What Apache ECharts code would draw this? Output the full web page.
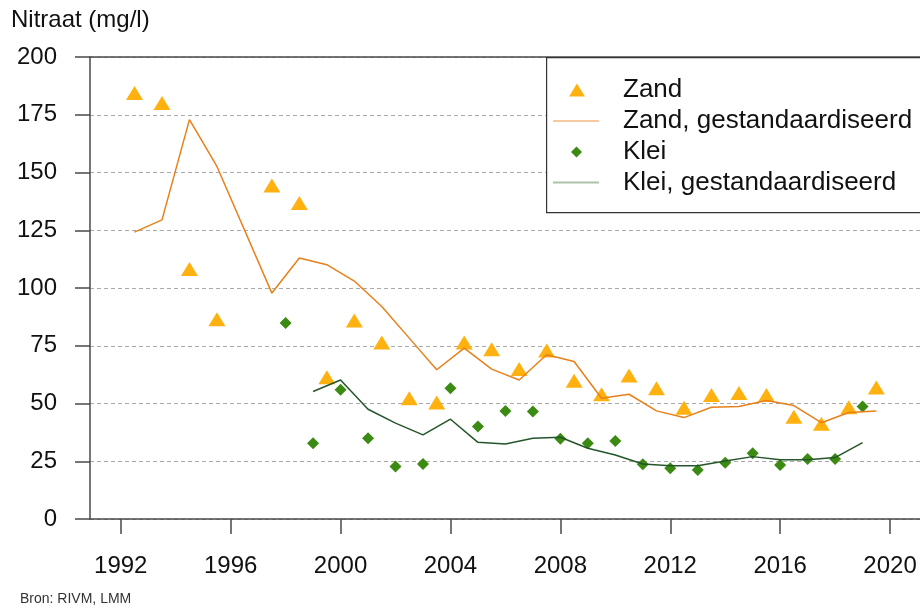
<!DOCTYPE html>
<html>
<head>
<meta charset="utf-8">
<script src="https://cdn.jsdelivr.net/npm/echarts@6/dist/echarts.min.js"></script>
<style>
  html, body { margin: 0; padding: 0; background: #fff; }
  #chart { width: 920px; height: 608px; }
</style>
</head>
<body>
<div id="chart"></div>
<script>
// Zand: meetjaren (geplot halverwege het jaar) en nitraat (mg/l)
var zandYears = [1992, 1993, 1994, 1995, 1997, 1998, 1999, 2000, 2001, 2002, 2003, 2004, 2005, 2006,
  2007, 2008, 2009, 2010, 2011, 2012, 2013, 2014, 2015, 2016, 2017, 2018, 2019];
var zandValues = [184.4, 180.1, 108.2, 86.5, 144.4, 136.8, 61.4, 85.9, 76.4, 52.3, 50.4, 76.4, 73.5, 64.9,
  72.9, 59.9, 54.0, 62.1, 56.6, 48.2, 53.7, 54.5, 53.7, 44.3, 41.2, 48.4, 56.9];
var zandStdValues = [124.2, 129.5, 172.9, 152.6, 97.8, 113.0, 110.1, 103.0, 92.0, 78.3, 64.6, 74.0, 64.9, 60.2,
  71.1, 68.2, 52.3, 54.0, 46.8, 43.9, 48.4, 48.7, 51.3, 49.1, 41.7, 46.1, 46.8];

// Klei
var kleiYears = [1998, 1999, 2000, 2001, 2002, 2003, 2004, 2005, 2006, 2007, 2008, 2009, 2010,
  2011, 2012, 2013, 2014, 2015, 2016, 2017, 2018, 2019];
var kleiValues = [84.8, 32.8, 55.9, 35.0, 22.7, 23.8, 56.6, 40.0, 46.8, 46.5, 34.7, 32.8, 33.8,
  23.7, 22.0, 21.2, 24.4, 28.5, 23.4, 26.0, 26.0, 48.7];
var kleiStdYears = [1999, 2000, 2001, 2002, 2003, 2004, 2005, 2006, 2007, 2008, 2009, 2010,
  2011, 2012, 2013, 2014, 2015, 2016, 2017, 2018, 2019];
var kleiStdValues = [55.2, 60.2, 47.5, 41.5, 36.4, 43.2, 33.2, 32.5, 35.0, 35.4, 30.6, 27.7,
  23.8, 23.0, 23.1, 25.1, 27.0, 25.6, 25.6, 26.6, 33.1];

var yearTicks = [1992, 1996, 2000, 2004, 2008, 2012, 2016, 2020];

var names = ['Zand', 'Zand, gestandaardiseerd', 'Klei', 'Klei, gestandaardiseerd'];

function pairs(xs, ys, shift) {
  return xs.map(function (x, i) { return [x + shift, ys[i]]; });
}

var font = 'Liberation Sans, Arial, Helvetica, sans-serif';
var axisColor = '#4a4a4a';

var myChart = echarts.init(document.getElementById('chart'));

var legendBase = {
  orient: 'vertical',
  padding: 0,
  itemGap: 0,
  selectedMode: false,
  z: 6,
  textStyle: { fontFamily: font, fontSize: 26, color: '#111', lineHeight: 28 }
};

function legend(name, left, centerY, w, h, icon, color, textPad) {
  return Object.assign({}, legendBase, {
    data: [{ name: name, icon: icon }],
    left: left,
    top: centerY - 14,
    itemWidth: w,
    itemHeight: h,
    symbolKeepAspect: false,
    itemStyle: { color: color, borderWidth: 0, opacity: 1 },
    textStyle: Object.assign({}, legendBase.textStyle, { padding: [0, 0, 0, textPad] })
  });
}

var option = {
  animation: false,
  backgroundColor: '#fff',
  title: [
    {
      text: 'Nitraat (mg/l)',
      left: 11, top: 8, padding: 0,
      textStyle: { fontFamily: font, fontSize: 24, fontWeight: 'normal', color: '#111', lineHeight: 24 }
    },
    {
      text: 'Bron: RIVM, LMM',
      left: 20, top: 592, padding: 0,
      textStyle: { fontFamily: font, fontSize: 14, fontWeight: 'normal', color: '#333', lineHeight: 14 }
    }
  ],
  graphic: [{
    type: 'rect',
    left: 546, top: 57, z: 3,
    shape: { width: 390, height: 155 },
    style: { fill: '#fff', stroke: '#333', lineWidth: 1.2 }
  }],
  legend: [
    legend(names[0], 569, 90, 16, 13, 'triangle', '#FFB20F', 33),
    legend(names[1], 553, 121, 46, 2, 'rect', '#F6C9A0', 19),
    legend(names[2], 571, 152, 11, 11, 'diamond', '#3B8A12', 36),
    legend(names[3], 553, 182.5, 46, 2, 'rect', '#AEC3AE', 19)
  ],
  grid: { left: 90, top: 57, right: 0, bottom: 89, containLabel: false },
  xAxis: [
    {
      type: 'value',
      min: 1990.88,
      max: 2021.09,
      axisLine: { show: true, lineStyle: { color: axisColor, width: 1.5 } },
      axisTick: { show: true, length: 15, customValues: yearTicks, lineStyle: { color: axisColor, width: 1.5 } },
      axisLabel: {
        customValues: yearTicks,
        margin: 35,
        fontFamily: font, fontSize: 24, color: '#111', lineHeight: 24,
        formatter: function (v) { return String(v); }
      },
      splitLine: { show: false }
    },
    {
      type: 'value',
      position: 'top',
      min: 1990.88,
      max: 2021.09,
      axisLine: { show: true, lineStyle: { color: axisColor, width: 1.5 } },
      axisTick: { show: false },
      axisLabel: { show: false },
      splitLine: { show: false }
    }
  ],
  yAxis: {
    type: 'value',
    min: 0,
    max: 200,
    interval: 25,
    axisLine: { show: true, lineStyle: { color: axisColor, width: 1.5 } },
    axisTick: { show: true, length: 15, lineStyle: { color: axisColor, width: 1.5 } },
    axisLabel: { margin: 33, fontFamily: font, fontSize: 24, color: '#111' },
    splitLine: { show: true, lineStyle: { color: '#aaaaaa', type: [4, 3], width: 1 } }
  },
  series: [
    {
      name: names[0],
      type: 'scatter',
      symbol: 'triangle',
      symbolSize: [17, 14],
      itemStyle: { color: '#FFB20F', opacity: 1 },
      data: pairs(zandYears, zandValues, 0.5)
    },
    {
      name: names[1],
      type: 'line',
      showSymbol: false,
      symbol: 'none',
      lineStyle: { color: '#E8801A', width: 1.5 },
      itemStyle: { color: '#E8801A' },
      data: pairs(zandYears, zandStdValues, 0.5)
    },
    {
      name: names[2],
      type: 'scatter',
      symbol: 'diamond',
      symbolSize: 12,
      itemStyle: { color: '#3B8A12', opacity: 1 },
      data: pairs(kleiYears, kleiValues, 0)
    },
    {
      name: names[3],
      type: 'line',
      showSymbol: false,
      symbol: 'none',
      lineStyle: { color: '#24562A', width: 1.5 },
      itemStyle: { color: '#24562A' },
      data: pairs(kleiStdYears, kleiStdValues, 0)
    }
  ]
};

myChart.setOption(option);
</script>
</body>
</html>
